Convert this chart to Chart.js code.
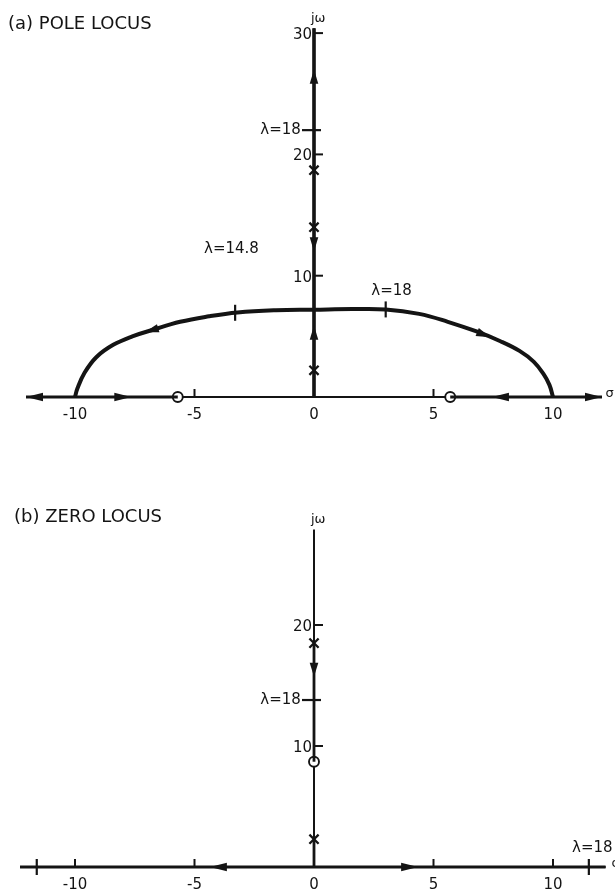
<!DOCTYPE html>
<html>
<head>
<meta charset="utf-8">
<script src="https://cdn.jsdelivr.net/npm/chart.js@4.4.1/dist/chart.umd.min.js"></script>
<style>
  html, body { margin: 0; padding: 0; background: #fff; }
  #wrap { position: relative; width: 615px; height: 896px; overflow: hidden; }
  .panel { position: absolute; left: 0; width: 615px; }
  #polePanel { top: 0; height: 440px; }
  #zeroPanel { top: 440px; height: 456px; }
</style>
</head>
<body>
<div id="wrap">
  <div class="panel" id="polePanel"><canvas id="poleChart"></canvas></div>
  <div class="panel" id="zeroPanel"><canvas id="zeroChart"></canvas></div>
</div>
<script>
// ---------- shared real-axis ticks ----------
const sigmaTickValues = [-10, -5, 0, 5, 10];
const sigmaTickLabels = ['-10', '-5', '0', '5', '10'];

// ---------- (a) pole locus ----------
const poleTitle = '(a) POLE LOCUS';
const poleOmegaTicks = [10, 20, 30];
// complex branch leaving the jω axis and landing on the real axis
const poleArcSigma = [-10.0, -9.9, -9.6, -9.1, -8.4, -7.6, -6.8, -5.6, -4.4, -3.2, -1.6, 0, 1.6, 3.0, 4.4, 5.6, 6.8, 7.8, 8.6, 9.2, 9.6, 9.85, 10.0];
const poleArcOmega = [0, 0.7, 2.0, 3.3, 4.3, 5.0, 5.5, 6.2, 6.65, 6.97, 7.15, 7.2, 7.25, 7.22, 6.85, 6.2, 5.4, 4.6, 3.8, 2.9, 1.9, 1.0, 0];
const polePolesOmega = [2.2, 14.0, 18.7];          // open-loop poles on jω axis (x)
const poleZerosSigma = [-5.7, 5.7];                // zeros on the real axis (o)
const poleJwLocus = [[0, 30.4]];                   // branches along jω
const poleRealLocus = [[-12.05, -5.7], [5.7, 12.05]]; // branches along σ
const poleArcGainSigma = [-3.3, 3.0];              // gain marks on the arc
const poleJwGainOmega = [22.0];                    // λ = 18 on jω
const poleArrows = [
  { at: [0, 26.4], dir: [0, 1] },
  { at: [0, 12.6], dir: [0, -1] },
  { at: [0, 5.3], dir: [0, 1] },
  { at: [-6.8, 5.5], dir: [-1, -0.6] },
  { at: [7.1, 5.15], dir: [1, -0.8] },
  { at: [-8.0, 0], dir: [1, 0] },
  { at: [7.8, 0], dir: [-1, 0] },
  { at: [-12.05, 0], dir: [-1, 0], end: true },
  { at: [12.05, 0], dir: [1, 0], end: true }
];
const poleLabels = [
  { text: 'λ=14.8', at: [-4.6, 12.2], align: 'left' },
  { text: 'λ=18', at: [2.4, 8.7], align: 'left' },
  { text: 'λ=18', at: [-0.55, 22.0], align: 'right' }
];

// ---------- (b) zero locus ----------
const zeroTitle = '(b) ZERO LOCUS';
const zeroOmegaTicks = [10, 20];
const zeroPolesOmega = [2.3, 18.5];                // x marks on jω
const zeroZerosOmega = [8.7];                      // o mark on jω
const zeroJwLocus = [[8.7, 18.5], [0, 2.3]];
const zeroRealLocus = [[-12.3, 12.2]];
const zeroJwGainOmega = [13.8];                    // λ = 18 on jω
const zeroRealGainSigma = [-11.6, 11.5];           // λ = 18 on σ
const zeroArrows = [
  { at: [0, 16.3], dir: [0, -1] },
  { at: [-4.0, 0], dir: [-1, 0] },
  { at: [4.0, 0], dir: [1, 0] }
];
const zeroLabels = [
  { text: 'λ=18', at: [-0.55, 13.8], align: 'right' },
  { text: 'λ=18', at: [10.8, 1.6], align: 'left' }
];

// ---------- drawing helpers ----------
const INK = '#141414';
const FONT = "'DejaVu Sans', 'Liberation Sans', sans-serif";

function segDatasets(segs, vertical, width) {
  return segs.map(s => ({
    type: 'line',
    data: vertical ? [{ x: 0, y: s[0] }, { x: 0, y: s[1] }] : [{ x: s[0], y: 0 }, { x: s[1], y: 0 }],
    borderColor: INK, borderWidth: width, pointRadius: 0, clip: false
  }));
}

function arrowHead(ctx, X, Y, ux, uy, len, half, tipAtPoint) {
  const tx = tipAtPoint ? X : X + ux * len / 2;
  const ty = tipAtPoint ? Y : Y + uy * len / 2;
  const bx = tx - ux * len, by = ty - uy * len;
  ctx.beginPath();
  ctx.moveTo(tx, ty);
  ctx.lineTo(bx - uy * half, by + ux * half);
  ctx.lineTo(bx + uy * half, by - ux * half);
  ctx.closePath();
  ctx.fill();
}

function makeDecor(cfg) {
  return {
    id: 'decor',
    beforeDatasetsDraw(chart) {
      const { ctx, scales: { x, y } } = chart;
      const px = v => x.getPixelForValue(v), py = v => y.getPixelForValue(v);
      ctx.save();
      ctx.strokeStyle = INK;
      ctx.lineWidth = cfg.axisWidth;
      ctx.beginPath();
      ctx.moveTo(px(cfg.realAxis[0]), py(0));
      ctx.lineTo(px(cfg.realAxis[1]), py(0));
      ctx.moveTo(px(0), py(0));
      ctx.lineTo(px(0), py(cfg.jwTop));
      ctx.stroke();
      ctx.restore();
    },
    afterDatasetsDraw(chart) {
      const { ctx, scales: { x, y } } = chart;
      const px = v => x.getPixelForValue(v), py = v => y.getPixelForValue(v);
      const x0 = px(0), y0 = py(0);
      ctx.save();
      ctx.strokeStyle = INK; ctx.fillStyle = INK;
      ctx.lineWidth = 2;

      // jω ticks (to the right of the axis) with labels on the left
      ctx.font = '15px ' + FONT;
      ctx.textAlign = 'right'; ctx.textBaseline = 'middle';
      cfg.omegaTicks.forEach(v => {
        ctx.beginPath(); ctx.moveTo(x0, py(v)); ctx.lineTo(x0 + 9, py(v)); ctx.stroke();
        ctx.fillText(String(v), x0 - 2, py(v) + 2);
      });
      // σ ticks (short, above the axis) and labels below
      cfg.sigmaMinor.forEach(v => {
        ctx.beginPath(); ctx.moveTo(px(v), y0); ctx.lineTo(px(v), y0 - 8); ctx.stroke();
      });
      ctx.textAlign = 'center';
      sigmaTickValues.forEach((v, i) => ctx.fillText(sigmaTickLabels[i], px(v), y0 + 18));

      // gain marks crossing the locus
      ctx.lineWidth = 2.2;
      cfg.jwGain.forEach(v => {
        ctx.beginPath(); ctx.moveTo(x0 - 12, py(v)); ctx.lineTo(x0 + 7, py(v)); ctx.stroke();
      });
      cfg.realGain.forEach(v => {
        ctx.beginPath(); ctx.moveTo(px(v), y0 - 8); ctx.lineTo(px(v), y0 + 8); ctx.stroke();
      });
      (cfg.arcGain || []).forEach(s => {
        // arc height at s
        let w = 0;
        for (let i = 0; i < cfg.arcS.length - 1; i++) {
          if (s >= cfg.arcS[i] && s <= cfg.arcS[i + 1]) {
            const t = (s - cfg.arcS[i]) / (cfg.arcS[i + 1] - cfg.arcS[i]);
            w = cfg.arcW[i] + t * (cfg.arcW[i + 1] - cfg.arcW[i]);
          }
        }
        ctx.beginPath(); ctx.moveTo(px(s), py(w) - 8); ctx.lineTo(px(s), py(w) + 8); ctx.stroke();
      });

      // direction arrows
      const sx = px(1) - px(0), sy = py(1) - py(0);
      cfg.arrows.forEach(a => {
        let dx = a.dir[0] * sx, dy = a.dir[1] * sy;
        const n = Math.hypot(dx, dy); dx /= n; dy /= n;
        const horiz = Math.abs(dy) < 0.01;
        arrowHead(ctx, px(a.at[0]), py(a.at[1]), dx, dy, horiz ? 17 : 14, 4.3, !!a.end);
      });

      // annotations
      ctx.font = '15px ' + FONT;
      ctx.textBaseline = 'middle';
      cfg.labels.forEach(l => {
        ctx.textAlign = l.align;
        ctx.fillText(l.text, px(l.at[0]), py(l.at[1]));
      });

      // axis names
      ctx.font = '13px ' + FONT;
      ctx.textAlign = 'left'; ctx.textBaseline = 'alphabetic';
      ctx.fillText('jω', x0 - 3, py(cfg.jwTop) - 6);
      ctx.textBaseline = 'middle';
      ctx.fillText('σ', px(cfg.sigmaName), y0 - 3);

      // panel title
      ctx.font = '18px ' + FONT;
      ctx.textAlign = 'left'; ctx.textBaseline = 'alphabetic';
      ctx.fillText(cfg.title, cfg.titleX, cfg.titleY);
      ctx.restore();
    }
  };
}

function baseOptions(yMin, yMax, pad) {
  return {
    responsive: true,
    maintainAspectRatio: false,
    animation: false,
    events: [],
    layout: { autoPadding: false, padding: pad },
    plugins: { legend: { display: false }, tooltip: { enabled: false } },
    scales: {
      x: { type: 'linear', min: -12.5, max: 12.5, display: false },
      y: { type: 'linear', min: yMin, max: yMax, display: false }
    }
  };
}

const crossStyle = { pointStyle: 'crossRot', pointRadius: 6.5, borderColor: INK, borderWidth: 2.3, clip: false };
const ringStyle = { pointStyle: 'circle', pointRadius: 5, borderColor: INK, backgroundColor: '#fff', borderWidth: 1.9, clip: false };

// ---------- (a) ----------
const poleDatasets = [
  {
    type: 'line',
    data: poleArcSigma.map((s, i) => ({ x: s, y: poleArcOmega[i] })),
    borderColor: INK, borderWidth: 4, pointRadius: 0, tension: 0.4, clip: false
  },
  ...segDatasets(poleJwLocus, true, 3.6),
  ...segDatasets(poleRealLocus, false, 3.2),
  Object.assign({ type: 'scatter', data: polePolesOmega.map(w => ({ x: 0, y: w })) }, crossStyle),
  Object.assign({ type: 'scatter', data: poleZerosSigma.map(s => ({ x: s, y: 0 })) }, ringStyle)
];

new Chart(document.getElementById('poleChart'), {
  type: 'scatter',
  data: { datasets: poleDatasets },
  options: baseOptions(-3, 32, { left: 15.25, right: 2.25, top: 8.84, bottom: 6.61 }),
  plugins: [makeDecor({
    axisWidth: 2.2, realAxis: [-12.05, 12.05], jwTop: 30.4,
    omegaTicks: poleOmegaTicks, sigmaMinor: [-5, 5],
    jwGain: poleJwGainOmega, realGain: [], arcGain: poleArcGainSigma,
    arcS: poleArcSigma, arcW: poleArcOmega,
    arrows: poleArrows, labels: poleLabels,
    sigmaName: 12.2, title: poleTitle, titleX: 8, titleY: 29
  })]
});

// ---------- (b) ----------
const zeroDatasets = [
  ...segDatasets(zeroJwLocus, true, 2.8),
  ...segDatasets(zeroRealLocus, false, 2.8),
  Object.assign({ type: 'scatter', data: zeroPolesOmega.map(w => ({ x: 0, y: w })) }, crossStyle),
  Object.assign({ type: 'scatter', data: zeroZerosOmega.map(w => ({ x: 0, y: w })) }, ringStyle)
];

new Chart(document.getElementById('zeroChart'), {
  type: 'scatter',
  data: { datasets: zeroDatasets },
  options: baseOptions(-2, 32, { left: 15.25, right: 2.25, top: 39.8, bottom: 4.8 }),
  plugins: [makeDecor({
    axisWidth: 2, realAxis: [-12.3, 12.2], jwTop: 27.9,
    omegaTicks: zeroOmegaTicks, sigmaMinor: [-10, -5, 5, 10],
    jwGain: zeroJwGainOmega, realGain: zeroRealGainSigma, arcGain: [],
    arcS: [], arcW: [],
    arrows: zeroArrows, labels: zeroLabels,
    sigmaName: 12.45, title: zeroTitle, titleX: 14, titleY: 82
  })]
});
</script>
</body>
</html>
